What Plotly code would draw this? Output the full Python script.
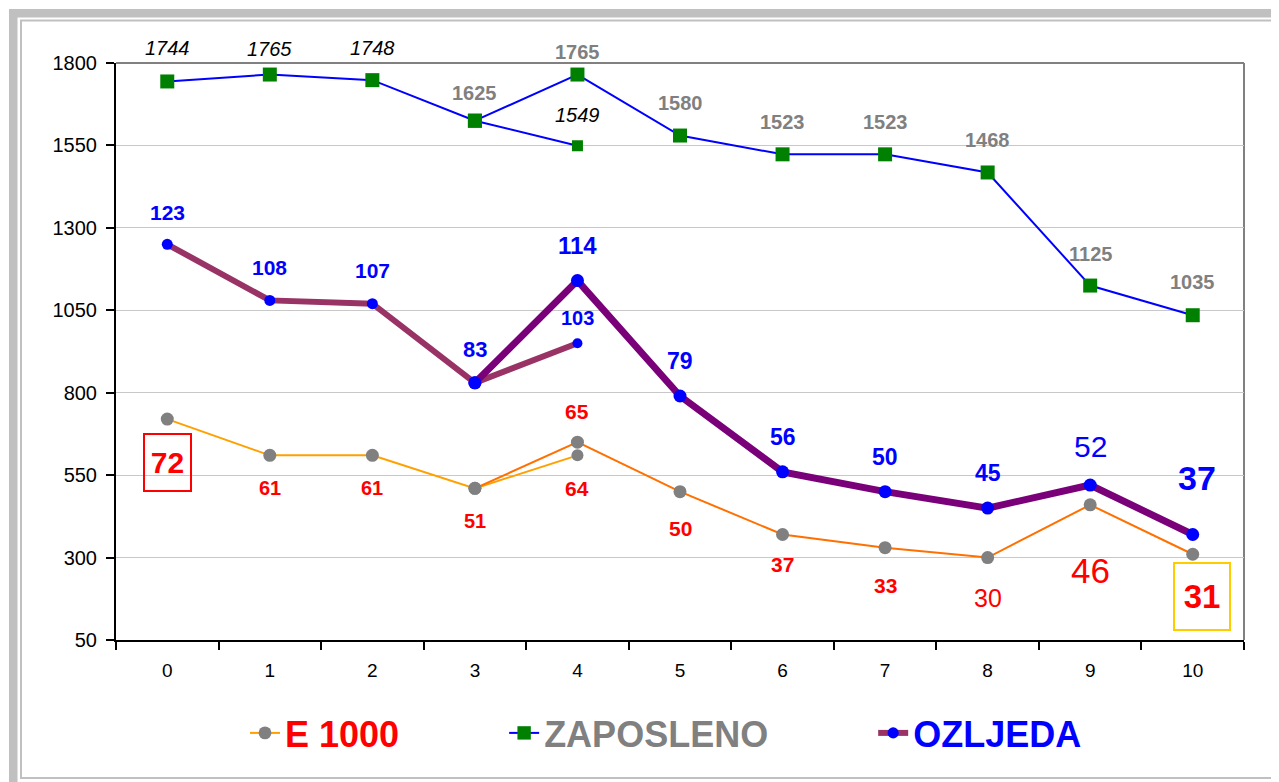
import plotly.graph_objects as go

# ---------------- data ----------------
categories = ["0", "1", "2", "3", "4", "5", "6", "7", "8", "9", "10"]

# ZAPOSLENO (employed) - two segments that branch at category 3/4
zap_a_x = ["0", "1", "2", "3", "4"]
zap_a = [1744, 1765, 1748, 1625, 1549]
zap_b_x = ["3", "4", "5", "6", "7", "8", "9", "10"]
zap_b = [1625, 1765, 1580, 1523, 1523, 1468, 1125, 1035]
zap_a_lbl = ["1744", "1765", "1748", None, "1549"]
zap_b_lbl = ["1625", "1765", "1580", "1523", "1523", "1468", "1125", "1035"]

# OZLJEDA (injuries) - plotted values (x10 scale) and their labels
ozl_a_x = ["0", "1", "2", "3", "4"]
ozl_a = [1250, 1080, 1070, 830, 950]
ozl_a_lbl = ["123", "108", "107", "83", "103"]
ozl_b_x = ["3", "4", "5", "6", "7", "8", "9", "10"]
ozl_b = [830, 1140, 790, 560, 500, 450, 520, 370]
ozl_b_lbl = [None, "114", "79", "56", "50", "45", "52", "37"]

# E 1000 - plotted values (x10 scale) and their labels
e_a_x = ["0", "1", "2", "3", "4"]
e_a = [720, 610, 610, 510, 610]
e_a_lbl = ["72", "61", "61", "51", "64"]
e_b_x = ["3", "4", "5", "6", "7", "8", "9", "10"]
e_b = [510, 650, 500, 370, 330, 300, 460, 310]
e_b_lbl = [None, "65", "50", "37", "33", "30", "46", "31"]

y_ticks = [50, 300, 550, 800, 1050, 1300, 1550, 1800]

# ---------------- styles ----------------
FONT = "Liberation Sans, Arial, sans-serif"
RED, BLUE, GRAY = "#FF0000", "#0000FF", "#808080"

# per-label style: (size, weight, italic, color, xshift, yshift)
zap_a_sty = [(20, "normal", True, "black", 0, 33), (20, "normal", True, "black", 0, 26),
             (20, "normal", True, "black", 0, 32), None, (20, "normal", True, "black", 0, 31)]
zap_b_sty = [(20, "bold", False, GRAY, 0, 28), (20, "bold", False, GRAY, 0, 23),
             (20, "bold", False, GRAY, 0, 33), (20, "bold", False, GRAY, 0, 32),
             (20, "bold", False, GRAY, 0, 32), (20, "bold", False, GRAY, 0, 32),
             (20, "bold", False, GRAY, 0, 32), (20, "bold", False, GRAY, 0, 33)]
ozl_a_sty = [(21, "bold", False, BLUE, 0, 32), (21, "bold", False, BLUE, 0, 33),
             (21, "bold", False, BLUE, 0, 33), (22, "bold", False, BLUE, 0, 33),
             (20, "bold", False, BLUE, 0, 25)]
ozl_b_sty = [None, (24, "bold", False, BLUE, 0, 35), (23, "bold", False, BLUE, 0, 35),
             (23, "bold", False, BLUE, 0, 35), (23, "bold", False, BLUE, 0, 35),
             (23, "bold", False, BLUE, 0, 35), (30, "normal", False, BLUE, 0, 39),
             (34, "bold", False, BLUE, 4, 56)]
e_a_sty = [(30, "bold", False, RED, 0, -43), (20, "bold", False, RED, 0, -33),
           (20, "bold", False, RED, 0, -33), (20, "bold", False, RED, 0, -33),
           (21, "bold", False, RED, 0, -33)]
e_b_sty = [None, (21, "bold", False, RED, 0, 31), (21, "bold", False, RED, 0, -37),
           (21, "bold", False, RED, 0, -30), (21, "bold", False, RED, 0, -38),
           (25, "normal", False, RED, 0, -40), (35, "normal", False, RED, 0, -66),
           (33, "bold", False, RED, 9, -42)]
boxes = {("e_a", 0): ("#FF0000", 45, 55), ("e_b", 7): ("#FFCC00", 54, 65)}

fig = go.Figure()

def add_line(xs, ys, name, lcolor, lwidth, mcolor, msym, msize, show):
    fig.add_trace(go.Scatter(
        x=xs, y=ys, mode="lines+markers", name=name, showlegend=show,
        line=dict(color=lcolor, width=lwidth),
        marker=dict(color=mcolor, symbol=msym, size=msize, opacity=1,
                    line=dict(width=0)),
        hoverinfo="x+y", cliponaxis=False))

PAD = "\u00a0" * 10
add_line(e_a_x, e_a, '<span style="color:#FF0000">E 1000' + PAD + '</span>', "#FFA000", 2,
         "#808080", "circle", [13, 13, 13, 13, 12], True)
add_line(zap_a_x, zap_a, '<span style="color:#808080">ZAPOSLENO' + PAD + '</span>', "#0000FF", 2,
         "#008000", "square", [14, 14, 14, 14, 11], True)
add_line(ozl_a_x, ozl_a, '<span style="color:#0000FF">OZLJEDA</span>', "#993366", 6,
         "#0000FF", "circle", [11, 11, 11, 13, 10], True)
add_line(e_b_x, e_b, "E 1000 b", "#FF7000", 2, "#808080", "circle", 13, False)
add_line(zap_b_x, zap_b, "ZAPOSLENO b", "#0000FF", 2, "#008000", "square", 14, False)
add_line(ozl_b_x, ozl_b, "OZLJEDA b", "#7A007A", 7, "#0000FF", "circle", 13, False)

def add_labels(key, xs, ys, lbls, stys):
    for i, (x, y, t, s) in enumerate(zip(xs, ys, lbls, stys)):
        if t is None or s is None:
            continue
        size, weight, italic, color, xs_, ys_ = s
        ann = dict(x=x, y=y, xref="x", yref="y", text=t, showarrow=False,
                   xshift=xs_, yshift=ys_,
                   font=dict(family=FONT, size=size, color=color, weight=weight,
                             style="italic" if italic else "normal"))
        if (key, i) in boxes:
            bc, w, h = boxes[(key, i)]
            ann.update(bordercolor=bc, borderwidth=2, borderpad=0, width=w, height=h,
                       bgcolor="rgba(255,255,255,0)")
        fig.add_annotation(**ann)

add_labels("zap_a", zap_a_x, zap_a, zap_a_lbl, zap_a_sty)
add_labels("zap_b", zap_b_x, zap_b, zap_b_lbl, zap_b_sty)
add_labels("ozl_a", ozl_a_x, ozl_a, ozl_a_lbl, ozl_a_sty)
add_labels("ozl_b", ozl_b_x, ozl_b, ozl_b_lbl, ozl_b_sty)
add_labels("e_a", e_a_x, e_a, e_a_lbl, e_a_sty)
add_labels("e_b", e_b_x, e_b, e_b_lbl, e_b_sty)

# ---------------- frame decoration ----------------
OFF = 8                      # page body margin
W, H = 1279 - OFF, 782 - OFF
L, R, T, B = 116, 1244, 63, 640   # plot area in screen pixels
def px(x):
    return (x - L) / (R - L)
def py(y):
    return (B - y) / (B - T)

shapes = [
    dict(type="rect", xref="paper", yref="paper", x0=px(9), x1=px(1290), y0=py(9), y1=py(17.5),
         fillcolor="#C0C0C0", line=dict(width=0), layer="below"),
    dict(type="rect", xref="paper", yref="paper", x0=px(9), x1=px(17.5), y0=py(9), y1=py(800),
         fillcolor="#C0C0C0", line=dict(width=0), layer="below"),
    dict(type="rect", xref="paper", yref="paper", x0=px(21), x1=px(1300), y0=py(20.5), y1=py(778),
         fillcolor="rgba(0,0,0,0)", line=dict(color="#C0C0C0", width=2), layer="below"),
    dict(type="line", xref="paper", yref="paper", x0=0, x1=1, y0=1, y1=1,
         line=dict(color="#808080", width=2), layer="below"),
    dict(type="line", xref="paper", yref="paper", x0=1, x1=1, y0=0, y1=1,
         line=dict(color="#808080", width=2), layer="below"),
]

fig.update_layout(
    width=W, height=H,
    margin=dict(l=L - OFF, r=W - (R - OFF), t=T - OFF, b=H - (B - OFF)),
    paper_bgcolor="white", plot_bgcolor="white",
    font=dict(family=FONT, color="black"),
    shapes=shapes,
    showlegend=True,
    legend=dict(orientation="h", x=px(666), xanchor="center", y=py(733), yanchor="middle",
                font=dict(family=FONT, size=36, weight="bold"),
                itemwidth=30, bgcolor="rgba(0,0,0,0)", traceorder="normal"),
    xaxis=dict(type="category", categoryorder="array", categoryarray=categories,
               range=[-0.5, 10.5], tickson="boundaries", ticks="outside", ticklen=8,
               tickwidth=2, tickcolor="black", showline=True, linecolor="black", linewidth=2,
               showgrid=False, zeroline=False, ticklabelstandoff=12,
               tickfont=dict(size=19, color="black")),
    yaxis=dict(range=[50, 1800], tickmode="array", tickvals=y_ticks,
               ticks="outside", ticklen=8, tickwidth=2, tickcolor="black",
               showline=True, linecolor="black", linewidth=2, ticklabelstandoff=5,
               showgrid=True, gridcolor="#C8C8C8", gridwidth=1, zeroline=False,
               tickfont=dict(size=20, color="black")),
)

fig.write_html("out.html")
